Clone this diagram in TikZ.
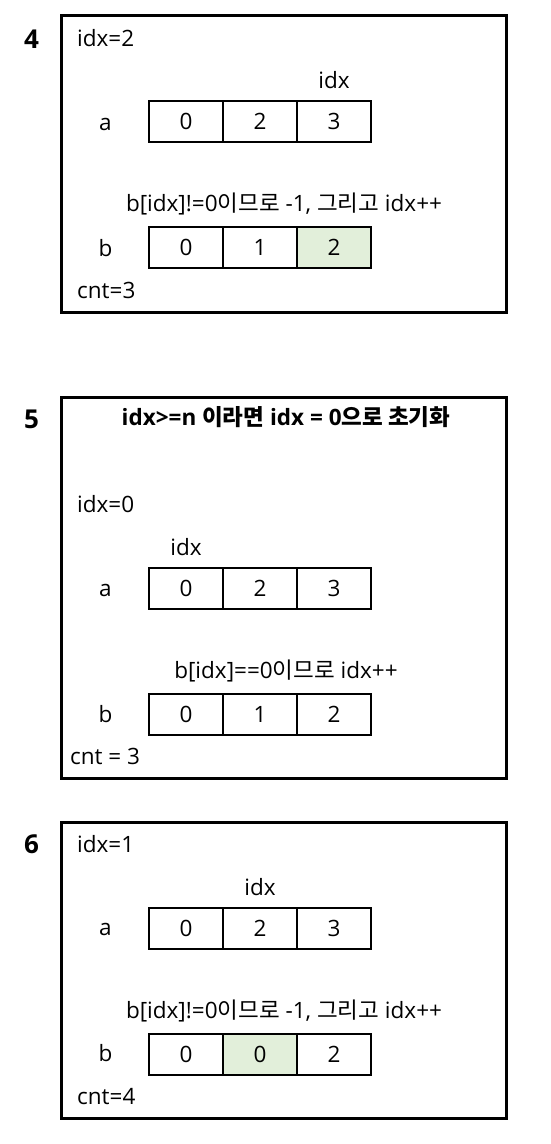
\documentclass[tikz,border=0pt]{standalone}
\usepackage{fontspec}
\setmainfont{Open Sans}
\newfontfamily\kr{Noto Sans CJK KR}
\definecolor{verde}{HTML}{E2EFDA}
\begin{document}
\begin{tikzpicture}[x=1pt,y=-1pt]
% estilos separados
\tikzset{
  celda/.style={draw, line width=2pt, minimum width=74pt, minimum height=41pt, inner sep=0pt, outer sep=0pt, font=\fontsize{22.5}{27}\selectfont},
  marco/.style={draw, line width=3pt},
  txt/.style={inner sep=0pt, anchor=base, font=\fontsize{22.5}{27}\selectfont},
  num/.style={inner sep=0pt, anchor=base, font=\fontsize{26}{30}\selectfont\bfseries}
}
\useasboundingbox (0,0) rectangle (550,1144);

% paso 4
\draw[marco] (61.5,15.5) rectangle (506,312);
\node[num] (n4) at (31.5,48) {4};
\node[txt, anchor=base west] (i4) at (77,46.5) {idx=2};
\node[txt] (p4) at (334,88) {idx};
\node[txt] (la4) at (105.5,130) {a};
\node[celda] (a40) at (186,121.5) {0};
\node[celda] (a41) at (260,121.5) {2};
\node[celda] (a42) at (334,121.5) {3};
\node[txt] (t4) at (284,211) {b[idx]!=0{\kr 이므로} -1, {\kr 그리고} idx++};
\node[txt] (lb4) at (105.5,256) {b};
\node[celda] (b40) at (186,247.5) {0};
\node[celda] (b41) at (260,247.5) {1};
\node[celda, fill=verde] (b42) at (334,247.5) {2};
\node[txt, anchor=base west] (c4) at (77,298) {cnt=3};

% paso 5
\draw[marco] (61.5,397.5) rectangle (506,778);
\node[num] (n5) at (31.5,428) {5};
\node[txt, font=\fontsize{22.5}{27}\selectfont\bfseries] (h5) at (286,425) {idx>=n {\kr 이라면} idx = 0{\kr 으로 초기화}};
\node[txt, anchor=base west] (i5) at (77,512) {idx=0};
\node[txt] (p5) at (186,555) {idx};
\node[txt] (la5) at (105.5,596) {a};
\node[celda] (a50) at (186,588) {0};
\node[celda] (a51) at (260,588) {2};
\node[celda] (a52) at (334,588) {3};
\node[txt] (t5) at (286,678) {b[idx]==0{\kr 이므로} idx++};
\node[txt] (lb5) at (105.5,722) {b};
\node[celda] (b50) at (186,714) {0};
\node[celda] (b51) at (260,714) {1};
\node[celda] (b52) at (334,714) {2};
\node[txt, anchor=base west] (c5) at (70,764) {cnt = 3};

% paso 6
\draw[marco] (61.5,822) rectangle (506,1118);
\node[num] (n6) at (31.5,853) {6};
\node[txt, anchor=base west] (i6) at (77,852) {idx=1};
\node[txt] (p6) at (260,895) {idx};
\node[txt] (la6) at (105.5,935) {a};
\node[celda] (a60) at (186,928) {0};
\node[celda] (a61) at (260,928) {2};
\node[celda] (a62) at (334,928) {3};
\node[txt] (t6) at (284,1018) {b[idx]!=0{\kr 이므로} -1, {\kr 그리고} idx++};
\node[txt] (lb6) at (105.5,1061) {b};
\node[celda] (b60) at (186,1054) {0};
\node[celda, fill=verde] (b61) at (260,1054) {0};
\node[celda] (b62) at (334,1054) {2};
\node[txt, anchor=base west] (c6) at (77,1104) {cnt=4};
\end{tikzpicture}
\end{document}
